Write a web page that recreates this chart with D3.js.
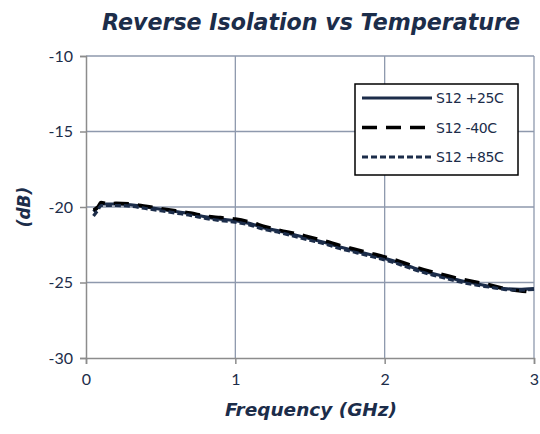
<!DOCTYPE html>
<html>
<head>
<meta charset="utf-8">
<script src="https://cdn.jsdelivr.net/npm/d3@7"></script>
<style>
  body { margin: 0; background: #fff; }
  svg { display: block; }
</style>
</head>
<body>
<svg id="chart" width="540" height="434"></svg>
<script>
// Reverse isolation data
const freqGHz = [0.05, 0.08, 0.1, 0.15, 0.2, 0.3, 0.4, 0.5, 0.6, 0.7, 0.8, 0.9, 1.0,
    1.1, 1.2, 1.3, 1.4, 1.5, 1.6, 1.7, 1.8, 1.9, 2.0, 2.1, 2.2, 2.3, 2.4, 2.5,
    2.6, 2.7, 2.8, 2.9, 3.0];

const s12_25C = [-20.3, -20.0, -19.8, -19.8, -19.8, -19.85, -20.0, -20.15, -20.3, -20.45,
    -20.65, -20.8, -20.9, -21.1, -21.4, -21.6, -21.85, -22.1, -22.35, -22.65, -22.9,
    -23.15, -23.4, -23.7, -24.05, -24.35, -24.6, -24.85, -25.05, -25.25, -25.4, -25.45, -25.4];

const s12_m40C = [-20.2, -20.0, -19.7, -19.8, -19.75, -19.8, -19.95, -20.1, -20.25, -20.4,
    -20.6, -20.7, -20.8, -21.0, -21.3, -21.55, -21.75, -22.0, -22.25, -22.55, -22.8,
    -23.05, -23.3, -23.6, -23.95, -24.25, -24.5, -24.75, -24.95, -25.15, -25.4, -25.55, -25.65];

const s12_85C = [-20.6, -20.2, -19.9, -19.9, -19.9, -19.95, -20.1, -20.25, -20.4, -20.55,
    -20.75, -20.9, -21.0, -21.2, -21.5, -21.7, -21.95, -22.2, -22.45, -22.75, -23.0,
    -23.25, -23.5, -23.8, -24.15, -24.45, -24.7, -24.95, -25.15, -25.3, -25.45, -25.5, -25.45];

const seriesNames = ['S12 +25C', 'S12 -40C', 'S12 +85C'];
const xTicks = [0, 1, 2, 3];
const yTicks = [-30, -25, -20, -15, -10];

const navy = '#1c2d4a';
const series = [
    { name: seriesNames[0], values: s12_25C, color: navy, width: 3.2, dash: null },
    { name: seriesNames[1], values: s12_m40C, color: '#000', width: 3.5, dash: '15,9' },
    { name: seriesNames[2], values: s12_85C, color: navy, width: 3.2, dash: '6,3' }
];

const svg = d3.select('#chart');
const margin = { left: 86, right: 6, top: 56, bottom: 76 };
const width = 540, height = 434;

const x = d3.scaleLinear().domain([0, 3]).range([margin.left, width - margin.right]);
const y = d3.scaleLinear().domain([-30, -10]).range([height - margin.bottom, margin.top]);

const font = 'Lato, "Open Sans", sans-serif';
const wideFont = '"DejaVu Sans", Verdana, sans-serif';

// shrink a text's font size so its width matches the target
function fitWidth(sel, target) {
    const len = sel.node().getComputedTextLength();
    const size = parseFloat(sel.style('font-size'));
    sel.style('font-size', (size * target / len).toFixed(2) + 'px');
}

// Grid lines
svg.append('g')
    .selectAll('line')
    .data(xTicks.filter(d => d > 0))
    .enter().append('line')
    .attr('x1', d => x(d)).attr('x2', d => x(d))
    .attr('y1', y(-10)).attr('y2', y(-30))
    .attr('stroke', '#8e99ad').attr('stroke-width', 1.3);

svg.append('g')
    .selectAll('line')
    .data(yTicks.filter(d => d > -30))
    .enter().append('line')
    .attr('x1', x(0)).attr('x2', x(3))
    .attr('y1', d => y(d)).attr('y2', d => y(d))
    .attr('stroke', '#8e99ad').attr('stroke-width', 1.3);

// Axes
const xAxis = d3.axisBottom(x).tickValues(xTicks).tickSize(6).tickPadding(10).tickFormat(d3.format('d'));
const yAxis = d3.axisLeft(y).tickValues(yTicks).tickSize(6).tickPadding(7).tickFormat(d3.format('d'));

const gx = svg.append('g')
    .attr('transform', `translate(0,${y(-30)})`)
    .call(xAxis);
const gy = svg.append('g')
    .attr('transform', `translate(${x(0)},0)`)
    .call(yAxis);

[gx, gy].forEach(g => {
    g.select('.domain').attr('stroke', '#8c8c8c').attr('stroke-width', 1.5);
    g.selectAll('.tick line').attr('stroke', '#8c8c8c').attr('stroke-width', 1.5);
    g.selectAll('.tick text')
        .attr('fill', '#1c2d4a')
        .style('font-family', font)
        .style('font-size', '16px');
});
gy.selectAll('.tick text').text(d => d.toString().replace('\u2212', '-'));

// Data lines
const line = d3.line()
    .x((d, i) => x(freqGHz[i]))
    .y(d => y(d))
    .curve(d3.curveMonotoneX);

series.forEach(s => {
    svg.append('path')
        .datum(s.values)
        .attr('d', line)
        .attr('fill', 'none')
        .attr('stroke', s.color)
        .attr('stroke-width', s.width)
        .attr('stroke-dasharray', s.dash);
});

// Title and axis labels
const title = svg.append('text')
    .attr('x', 311).attr('y', 30)
    .attr('text-anchor', 'middle')
    .attr('fill', navy)
    .style('font-family', wideFont)
    .style('font-weight', 'bold')
    .style('font-style', 'italic')
    .style('font-size', '22px')
    .text('Reverse Isolation vs Temperature');
fitWidth(title, 418);

const xTitle = svg.append('text')
    .attr('x', 311).attr('y', 416)
    .attr('text-anchor', 'middle')
    .attr('fill', navy)
    .style('font-family', wideFont)
    .style('font-weight', 'bold')
    .style('font-style', 'italic')
    .style('font-size', '16px')
    .text('Frequency (GHz)');
fitWidth(xTitle, 172);

svg.append('text')
    .attr('transform', `translate(30,${y(-20)}) rotate(-90)`)
    .attr('text-anchor', 'middle')
    .attr('fill', navy)
    .style('font-family', wideFont)
    .style('font-weight', 'bold')
    .style('font-style', 'italic')
    .style('font-size', '17px')
    .text('(dB)');

// Legend
const legend = svg.append('g');
legend.append('rect')
    .attr('x', 355).attr('y', 84)
    .attr('width', 163).attr('height', 91)
    .attr('fill', '#fff')
    .attr('stroke', '#000').attr('stroke-width', 1.5);

series.forEach((s, i) => {
    const ly = 98 + i * 29.5;
    legend.append('line')
        .attr('x1', 362).attr('x2', 432)
        .attr('y1', ly).attr('y2', ly)
        .attr('stroke', s.color)
        .attr('stroke-width', s.width)
        .attr('stroke-dasharray', s.dash);
    legend.append('text')
        .attr('x', 436).attr('y', ly + 5)
        .attr('fill', navy)
        .style('font-family', wideFont)
        .style('font-size', '14px')
        .style('letter-spacing', '-0.4px')
        .text(s.name);
});
</script>
</body>
</html>
